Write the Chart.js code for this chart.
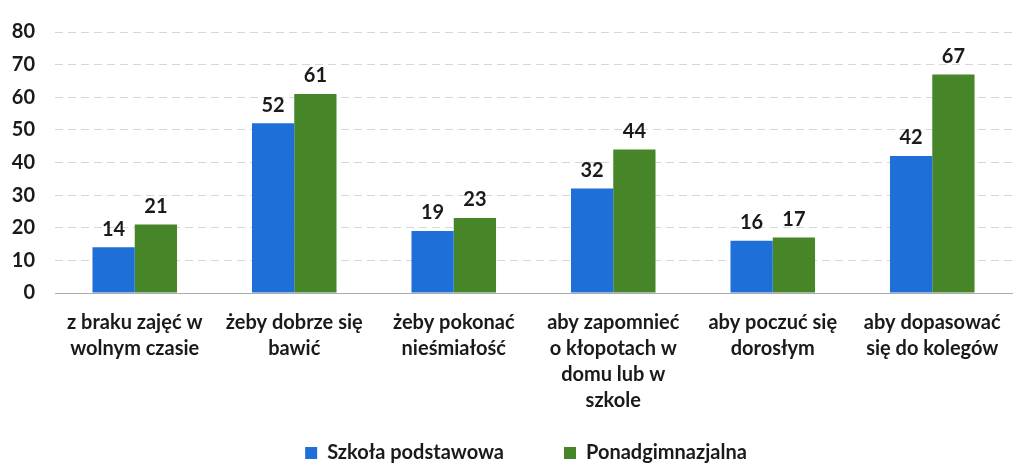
<!DOCTYPE html>
<html>
<head>
<meta charset="utf-8">
<script src="https://cdn.jsdelivr.net/npm/chart.js@4"></script>
<style>
  html, body { margin: 0; padding: 0; background: #fff; overflow: hidden; }
  #wrap { width: 1014px; height: 463px; }
</style>
</head>
<body>
<div id="wrap"><canvas id="chart" width="1014" height="463"></canvas></div>
<script>
const categories = [
  ['z braku zajęć w', 'wolnym czasie'],
  ['żeby dobrze się', 'bawić'],
  ['żeby pokonać', 'nieśmiałość'],
  ['aby zapomnieć', 'o kłopotach w', 'domu lub w', 'szkole'],
  ['aby poczuć się', 'dorosłym'],
  ['aby dopasować', 'się do kolegów']
];
const seriesNames = ['Szkoła podstawowa', 'Ponadgimnazjalna'];
const podstawowa = [14, 52, 19, 32, 16, 42];
const ponadgimnazjalna = [21, 61, 23, 44, 17, 67];
const yTicks = [0, 10, 20, 30, 40, 50, 60, 70, 80];

const FONT = 'Lato, "Open Sans", sans-serif';

// etykiety wartości nad słupkami
const valueLabels = {
  id: 'valueLabels',
  afterDatasetsDraw(chart) {
    const ctx = chart.ctx;
    ctx.save();
    ctx.font = 'bold 20px ' + FONT;
    ctx.fillStyle = '#1a1a1a';
    ctx.textAlign = 'center';
    ctx.textBaseline = 'bottom';
    chart.data.datasets.forEach((ds, i) => {
      chart.getDatasetMeta(i).data.forEach((bar, j) => {
        ctx.fillText(ds.data[j], bar.x, bar.y - 8);
      });
    });
    ctx.restore();
  }
};

// legenda: duży odstęp między pozycjami, ale mało miejsca w pionie
const legendFit = {
  id: 'legendFit',
  beforeLayout(chart) {
    const lg = chart.legend;
    if (lg && !lg._patched) {
      const orig = lg.fit;
      lg.fit = function () { orig.call(this); this.height = 50; };
      lg._patched = true;
    }
  },
  afterLayout(chart) {
    const lg = chart.legend;
    if (lg) { lg.top -= 30; lg.left += 40; }
  }
};

new Chart(document.getElementById('chart'), {
  type: 'bar',
  data: {
    labels: categories,
    datasets: [
      { label: seriesNames[0], data: podstawowa, backgroundColor: '#1f6fd8',
        categoryPercentage: 0.53, barPercentage: 1 },
      { label: seriesNames[1], data: ponadgimnazjalna, backgroundColor: '#468528',
        categoryPercentage: 0.53, barPercentage: 1 }
    ]
  },
  options: {
    responsive: false,
    animation: false,
    layout: { padding: { top: 15, right: 2, left: 0, bottom: 0 } },
    scales: {
      x: {
        grid: { display: false },
        border: { color: '#aaa' },
        ticks: {
          color: '#1a1a1a',
          font: { family: FONT, size: 20, weight: 'bold', lineHeight: 1.3 },
          maxRotation: 0,
          autoSkip: false,
          padding: 9
        },
        afterFit(axis) { axis.height = 120; }
      },
      y: {
        min: 0,
        max: 80,
        afterBuildTicks(axis) { axis.ticks = yTicks.map(v => ({ value: v })); },
        grid: { color: '#d6d6d6', drawTicks: false },
        border: { display: false, dash: [8, 5] },
        ticks: {
          color: '#1a1a1a',
          font: { family: FONT, size: 20, weight: 'bold' },
          padding: 20
        },
        afterFit(axis) { axis.width = 55; }
      }
    },
    plugins: {
      legend: {
        position: 'bottom',
        labels: {
          color: '#1a1a1a',
          font: { family: FONT, size: 20, weight: 'bold' },
          boxWidth: 12,
          boxHeight: 12,
          padding: 60
        }
      },
      tooltip: { enabled: false }
    }
  },
  plugins: [valueLabels, legendFit]
});
</script>
</body>
</html>
